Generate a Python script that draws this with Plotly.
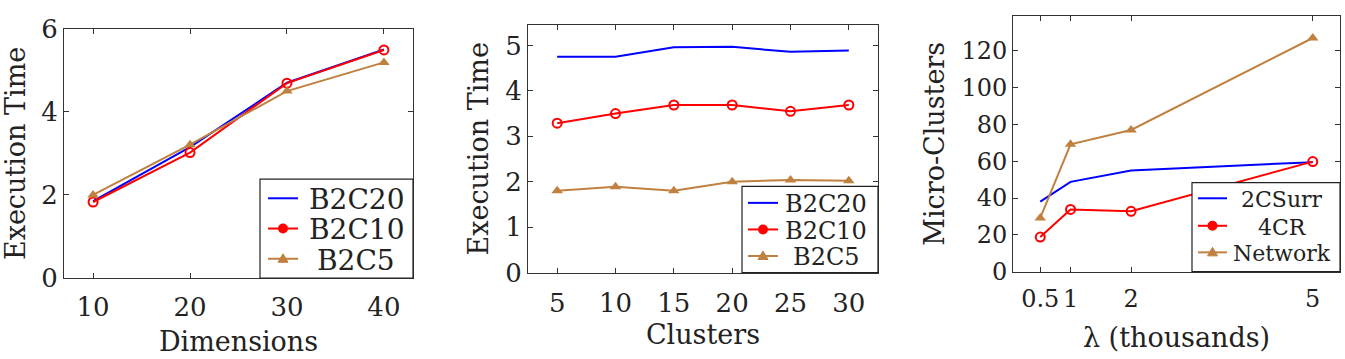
import plotly.graph_objects as go

# Panel 1: Execution time vs dimensions
dims = [10, 20, 30, 40]
p1_b2c20 = [1.85, 3.15, 4.70, 5.50]
p1_b2c10 = [1.83, 3.02, 4.69, 5.49]
p1_b2c5 = [2.00, 3.21, 4.50, 5.19]

# Panel 2: Execution time vs clusters
clusters = [5, 10, 15, 20, 25, 30]
p2_b2c20 = [4.75, 4.75, 4.96, 4.97, 4.86, 4.89]
p2_b2c10 = [3.29, 3.50, 3.69, 3.69, 3.55, 3.69]
p2_b2c5 = [1.80, 1.89, 1.80, 2.00, 2.04, 2.02]

# Panel 3: Micro-clusters vs lambda
lam = [0.5, 1, 2, 5]
lam_ticks = ["0.5", "1", "2", "5"]
p3_2csurr = [38, 48.8, 55, 59.5]
p3_4cr = [18.8, 33.8, 32.8, 59.8]
p3_network = [29.2, 69.2, 77, 127]

names_b2c = ["B2C20", "B2C10", "B2C5"]
names_mc = ["2CSurr", "4CR", "Network"]

BLUE = "#0000ff"
RED = "#ff0000"
BROWN = "#bf8040"
TXT = "#222"
FONT = "DejaVu Serif"
KINDS = ["line", "circle", "tri"]
COLORS = [BLUE, RED, BROWN]

W, H = 1345, 359
def fx(px): return px / W
def fy(py): return 1 - py / H

fig = go.Figure()

def add_series(x, y, name, color, kind, xa, ya):
    if kind == "line":
        mode, marker = "lines", None
    elif kind == "circle":
        mode = "lines+markers"
        marker = dict(symbol="circle-open", size=9, color=color, line=dict(width=2, color=color))
    else:
        mode = "lines+markers"
        marker = dict(symbol="triangle-up", size=10, color=color)
    fig.add_trace(go.Scatter(x=x, y=y, name=name, mode=mode, marker=marker,
                             line=dict(color=color, width=2),
                             xaxis=xa, yaxis=ya, showlegend=False))

for ys, n, c, k in zip([p1_b2c20, p1_b2c10, p1_b2c5], names_b2c, COLORS, KINDS):
    add_series(dims, ys, n, c, k, "x", "y")
for ys, n, c, k in zip([p2_b2c20, p2_b2c10, p2_b2c5], names_b2c, COLORS, KINDS):
    add_series(clusters, ys, n, c, k, "x2", "y2")
for ys, n, c, k in zip([p3_2csurr, p3_4cr, p3_network], names_mc, COLORS, KINDS):
    add_series(lam, ys, n, c, k, "x3", "y3")

# Hand-built legends (pixel layout), matching the LaTeX-style boxed legends
shapes, annots = [], []

def legend(box, line_x, rows_y, text_x, names, fsize, boxh):
    x0, x1, y0, y1 = box
    shapes.append(dict(type="rect", xref="paper", yref="paper",
                       x0=fx(x0), x1=fx(x1), y0=fy(y1), y1=fy(y0),
                       line=dict(color=TXT, width=1.2), fillcolor="white", layer="above"))
    for ry, n, c, k in zip(rows_y, names, COLORS, KINDS):
        shapes.append(dict(type="line", xref="paper", yref="paper",
                           x0=fx(line_x[0]), x1=fx(line_x[1]), y0=fy(ry), y1=fy(ry),
                           line=dict(color=c, width=2), layer="above"))
        mx = (line_x[0] + line_x[1]) / 2
        if k == "circle":
            shapes.append(dict(type="circle", xref="paper", yref="paper",
                               xsizemode="pixel", ysizemode="pixel",
                               xanchor=fx(mx), yanchor=fy(ry),
                               x0=-4, x1=4, y0=-4, y1=4,
                               line=dict(color=c, width=2), fillcolor=c, layer="above"))
        elif k == "tri":
            shapes.append(dict(type="path", xref="paper", yref="paper",
                               xsizemode="pixel", ysizemode="pixel",
                               xanchor=fx(mx), yanchor=fy(ry),
                               path="M -5,-3.5 L 5,-3.5 L 0,5 Z",
                               line=dict(color=c, width=1), fillcolor=c, layer="above"))
        annots.append(dict(xref="paper", yref="paper", x=fx(text_x), y=fy(ry + 1),
                           xanchor="center", yanchor="middle", showarrow=False, text=n,
                           height=boxh, valign="middle", borderpad=0,
                           font=dict(family=FONT, size=fsize, color=TXT)))

legend((260, 413, 179, 287), (268, 298), [200, 233, 266], 356, names_b2c, 28, 30)
legend((742, 878, 187, 281), (748, 778), [205, 234, 263], 826, names_b2c, 24, 25)
legend((1192, 1340, 183, 280), (1198, 1227), [200, 230, 259], 1282, names_mc, 22, 26)

def axis_common(fs):
    return dict(showline=True, linecolor="#333", linewidth=1, mirror="ticks",
                ticks="inside", ticklen=5, tickcolor="#333", showgrid=False,
                zeroline=False, tickangle=0,
                tickfont=dict(family=FONT, size=fs, color=TXT))

def title(text, size=27, standoff=8):
    return dict(text=text, font=dict(family=FONT, size=size, color=TXT), standoff=standoff)

fig.update_layout(
    width=W, height=H, margin=dict(l=0, r=0, t=0, b=0),
    paper_bgcolor="white", plot_bgcolor="white",
    font=dict(family=FONT, color=TXT),
    showlegend=False,
    shapes=shapes, annotations=annots,
    xaxis=dict(domain=[fx(64), fx(413)], anchor="y", range=[7, 43], ticklabelstandoff=6,
               tickvals=dims, title=title("Dimensions", standoff=10), **axis_common(26)),
    yaxis=dict(domain=[fy(287), fy(15)], anchor="x", range=[0, 6],
               tickvals=[0, 2, 4, 6], title=title("Execution Time"), **axis_common(26)),
    xaxis2=dict(domain=[fx(528), fx(878)], anchor="y2", range=[2.5, 32.5], ticklabelstandoff=7,
                tickvals=clusters, title=title("Clusters", standoff=8), **axis_common(26)),
    yaxis2=dict(domain=[fy(281), fy(11)], anchor="x2", range=[0, 5.45],
                tickvals=[0, 1, 2, 3, 4, 5], title=title("Execution Time"), **axis_common(26)),
    xaxis3=dict(domain=[fx(1013), fx(1340)], anchor="y3", range=[0.05, 5.45], ticklabelstandoff=6,
                tickvals=lam, ticktext=lam_ticks, title=title("λ (thousands)", standoff=15),
                **axis_common(24)),
    yaxis3=dict(domain=[fy(280), fy(1)], anchor="x3", range=[0, 139],
                tickvals=[0, 20, 40, 60, 80, 100, 120], title=title("Micro-Clusters"),
                **axis_common(24)),
)

fig.write_html("out.html")
